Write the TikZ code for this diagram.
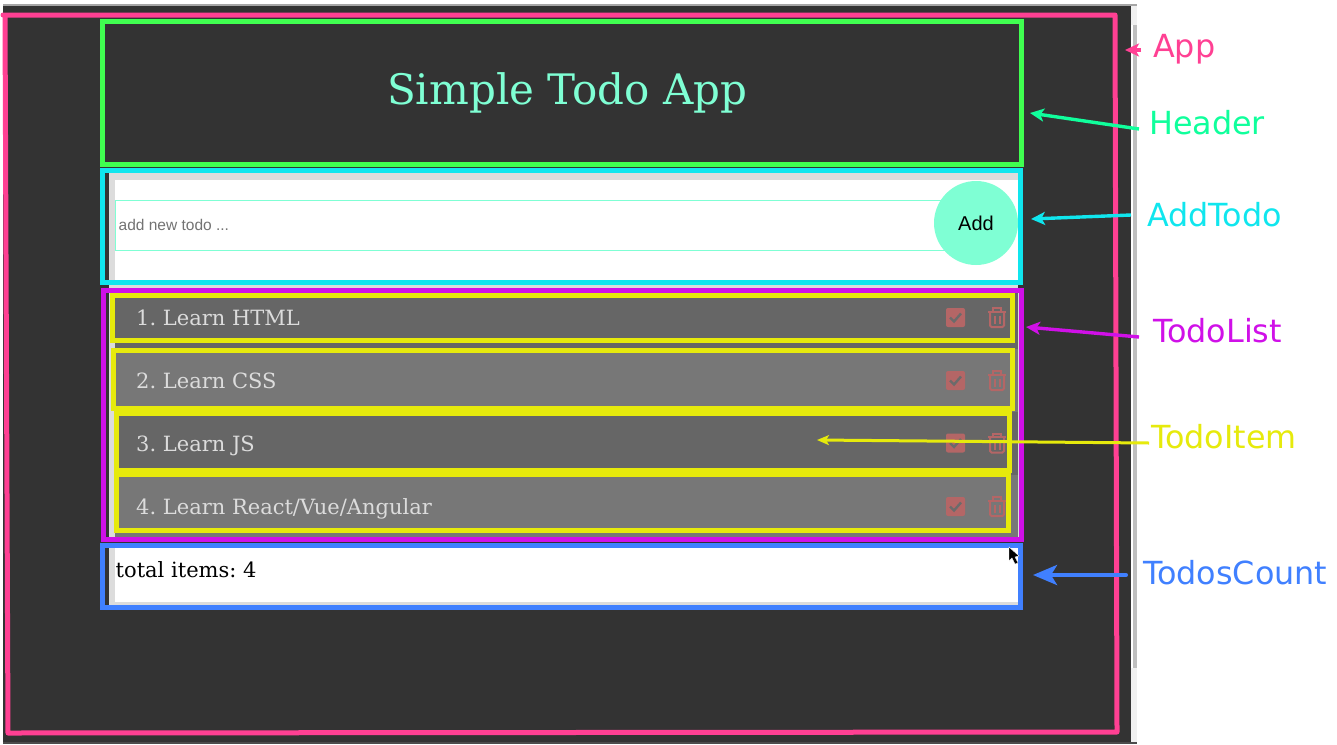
\documentclass[tikz,border=0pt]{standalone}
\usepackage{fontspec}
\setmainfont{DejaVu Serif}
\newfontfamily\labelfont{DejaVu Sans}
\newfontfamily\uifont{Liberation Sans}
\usetikzlibrary{arrows.meta}
\definecolor{pagedark}{HTML}{333333}
\definecolor{aqua}{HTML}{7FFFD4}
\definecolor{panelgray}{HTML}{DCDCDC}
\definecolor{rowdark}{HTML}{666666}
\definecolor{rowlight}{HTML}{777777}
\definecolor{iconred}{HTML}{B46666}
\definecolor{apppink}{HTML}{FF4093}
\definecolor{headgreen}{HTML}{40FF50}
\definecolor{headmint}{HTML}{10FF9C}
\definecolor{addcyan}{HTML}{10E6EE}
\definecolor{listpurple}{HTML}{D010E8}
\definecolor{itemyellow}{HTML}{E6EA0C}
\definecolor{countblue}{HTML}{4080FF}
\tikzset{
	box/.style={draw=#1,line width=5pt,inner sep=0pt,fill=none},
	lbl/.style={text=#1,anchor=base west,inner sep=0pt,font=\labelfont\fontsize{31.8}{36}\selectfont},
	rowtext/.style={text=panelgray,anchor=base west,inner sep=0pt,font=\fontsize{21}{25}\selectfont},
	pointer/.style={draw=#1,line width=3.4pt,-{Stealth[length=14pt,width=13pt,inset=3.5pt]}},
	pics/checkicon/.style={code={
		\fill[iconred,rounded corners=2pt] (-9.5,-9.5) rectangle (9.5,9.5);
		\draw[black!58,line width=2.4pt] (-5.5,0) -- (-1.5,4) -- (5.5,-4);
	}},
	pics/trashicon/.style={code={
		\draw[iconred,line width=2pt,rounded corners=1.5pt] (-7,-5.5) -- (-7,9.5) -- (7,9.5) -- (7,-5.5);
		\draw[iconred,line width=2pt] (-9,-6) -- (9,-6);
		\draw[iconred,line width=2pt] (-4,-6) -- (-4,-9.5) -- (4,-9.5) -- (4,-6);
		\draw[iconred,line width=2pt] (-2.5,-2) -- (-2.5,6.5) (2.5,-2) -- (2.5,6.5);
	}}
}
\frenchspacing
\begin{document}
\begin{tikzpicture}[x=1pt,y=-1pt]
	\useasboundingbox (0,0) rectangle (1337,744);
	\fill[white] (0,0) rectangle (1337,744);
	% browser window
	\fill[pagedark] (3,6) rectangle (1131,742);
	\fill[black!35] (3,4) rectangle (1137,6);
	\fill[black!70] (3,742) rectangle (1137,744);
	\fill[black!6] (1131,6) rectangle (1137,25);
	\fill[black!6] (1131,668) rectangle (1137,742);
	\fill[black!25] (1133,25) rectangle (1137,668);
	% panels behind the boxes
	\fill[panelgray] (109,173) rectangle (1018,288);
	\fill[white] (115,180) rectangle (1018,280);
	\fill[panelgray] (109,288) rectangle (1019,540);
	\fill[panelgray] (109,548) rectangle (1018,605);
	\fill[white] (115,548) rectangle (1018,602);
	\foreach \ytop/\ybot/\rowcol in {293/349/rowdark,349/412/rowlight,412/475/rowdark,475/537/rowlight}
		\fill[\rowcol] (115,\ytop) rectangle (1018,\ybot);
	% app content
	\node[text=aqua,anchor=base west,inner sep=0pt,font=\fontsize{42}{48}\selectfont] (title) at (387,104) {Simple Todo App};
	\node[draw=aqua,line width=1pt,inner sep=0pt,minimum width=850,minimum height=50] (input) at (540,225.5) {};
	\node[anchor=base west,inner sep=0pt,text=black!55,font=\uifont\fontsize{15.5}{18}\selectfont] (placeholder) at (118.5,230) {add new todo ...};
	\node[circle,fill=aqua,inner sep=0pt,minimum size=84,font=\uifont\fontsize{20}{24}\selectfont] (addbtn) at (976,223) {Add};
	\foreach \n/\ybase/\yicon/\txt in {1/325/317.5/{1. Learn HTML},2/388/380.5/{2. Learn CSS},3/451/443/{3. Learn JS},4/514/506.5/{4. Learn React/Vue/Angular}}{
		\node[rowtext] (row\n) at (136,\ybase) {\txt};
		\pic at (955.5,\yicon) {checkicon};
		\pic at (997,\yicon) {trashicon};
	}
	\node[anchor=base west,inner sep=0pt,font=\fontsize{21}{25}\selectfont] (total) at (115.5,577) {total items: 4};
	% outlines
	\node[box=headgreen,minimum width=919,minimum height=143] (header) at (562,93) {};
	\node[box=listpurple,minimum width=918,minimum height=249] (todolist) at (562.5,415) {};
	\node[box=addcyan,minimum width=918,minimum height=112] (addtodo) at (561,226.5) {};
	\node[box=countblue,minimum width=918,minimum height=62] (todoscount) at (561,576.5) {};
	\node[box=itemyellow,minimum width=900,minimum height=45] (item1) at (562.5,318) {};
	\node[box=itemyellow,minimum width=899,minimum height=58] (item2) at (563,379.5) {};
	\node[box=itemyellow,minimum width=893,minimum height=57] (item3) at (563,442) {};
	\node[box=itemyellow,minimum width=892,minimum height=56] (item4) at (562.5,502.5) {};
	\draw[apppink,line width=5pt,line join=round,line cap=round] (3,15) -- (1115,15) -- (1117,732) -- (8,733) -- (5,15);
	% mouse pointer
	\fill[black,draw=white,line width=.4pt] (1009,547) -- (1009,561) -- (1012,558) -- (1015,564) -- (1018,563) -- (1015,557) -- (1019,556) -- cycle;
	% names on the right
	\node[lbl=apppink] (lblapp) at (1153,57) {App};
	\node[lbl=headmint] (lblheader) at (1149,134) {Header};
	\node[lbl=addcyan] (lbladdtodo) at (1147,226) {AddTodo};
	\node[lbl=listpurple] (lbltodolist) at (1153,342) {TodoList};
	\node[lbl=itemyellow] (lbltodoitem) at (1151,448) {TodoItem};
	\node[lbl=countblue] (lbltodoscount) at (1143,584) {TodosCount};
	\coordinate (tipapp) at (1125,50);
	\coordinate (tipheader) at (1030,113);
	\coordinate (tipaddtodo) at (1031,219);
	\coordinate (tiptodolist) at (1026,327);
	\coordinate (tiptodoitem) at (817,440);
	\coordinate (tiptodoscount) at (1033,575);
	\draw[pointer=apppink] ([shift={(-12,-7)}]lblapp.base west) -- (tipapp);
	\draw[pointer=headmint] ([shift={(-10,-5)}]lblheader.base west) -- (tipheader);
	\draw[pointer=addcyan] ([shift={(-16,-11)}]lbladdtodo.base west) -- (tipaddtodo);
	\draw[pointer=listpurple] ([shift={(-14,-5)}]lbltodolist.base west) -- (tiptodolist);
	\draw[draw=itemyellow,line width=3pt,-{Stealth[length=12pt,width=10pt,inset=3pt]}] ([shift={(-2,-5)}]lbltodoitem.base west) -- (tiptodoitem);
	\draw[draw=countblue,line width=4pt,line cap=round,-{Stealth[length=24pt,width=20pt,inset=6pt]}] ([shift={(-17,-9)}]lbltodoscount.base west) -- (tiptodoscount);
\end{tikzpicture}
\end{document}
